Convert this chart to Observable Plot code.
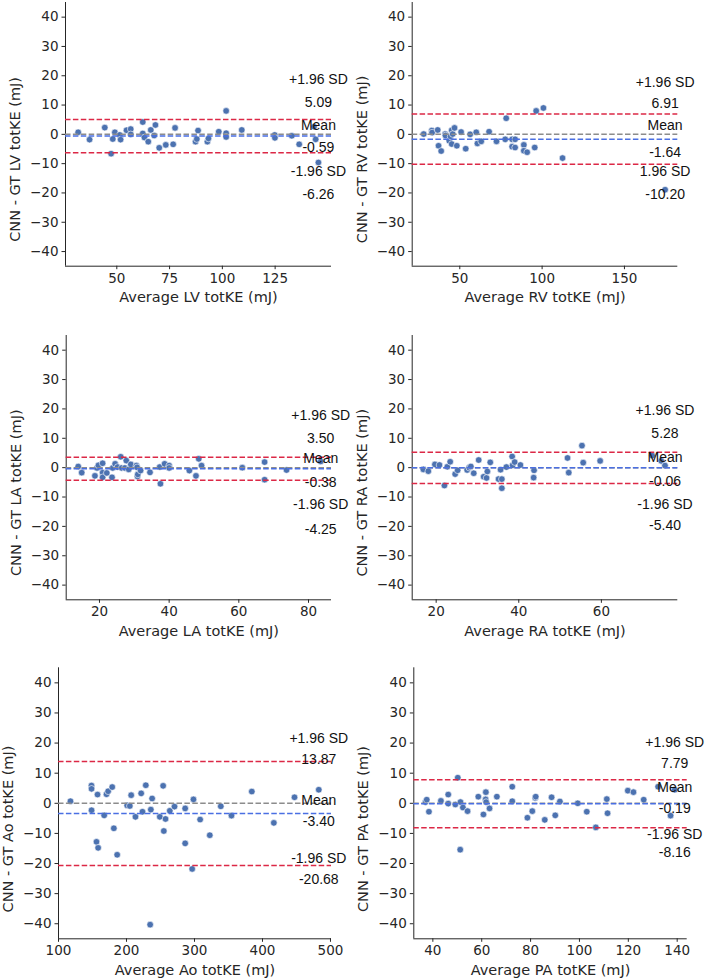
<!DOCTYPE html>
<html>
<head>
<meta charset="utf-8">
<script src="https://cdn.jsdelivr.net/npm/d3@7"></script>
<script src="https://cdn.jsdelivr.net/npm/@observablehq/plot@0.6"></script>
<style>
  html, body { margin: 0; padding: 0; background: #ffffff; }
  #chart { position: relative; width: 709px; height: 980px; background: #ffffff; }
  #chart svg { position: absolute; overflow: visible; }
</style>
</head>
<body>
<div id="chart"></div>
<script>
// ---------------- DATA ----------------
const chambers = ["LV", "RV", "LA", "RA", "Ao", "PA"];

const lvAvg  = [31.7, 37.1, 44.3, 47.3, 48.1, 49.1, 51.4, 51.8, 54.6, 56.6, 56.6, 62.3, 62.3, 63.1, 64.9, 66.1, 67.7, 68.3, 70.1, 73.2, 76.7, 77.6, 87.3, 87.9, 88.5, 92.9, 93.4, 98.3, 101.8, 101.8, 101.8, 109.2, 124.8, 124.9, 132.9, 136.4, 143.4, 144.2, 145.5];
const lvDiff = [0.7, -1.8, 2.3, -6.6, -1.6, 0.7, -0.2, -1.8, 1.4, 1.8, 0.0, 4.2, 0.3, -1.1, -2.5, 1.5, -0.4, 3.2, -4.6, -3.6, -3.4, 2.2, -2.5, -1.6, 1.3, -2.5, -1.4, 0.9, 8.0, 0.4, -0.9, 1.5, -0.2, -1.2, -0.5, -3.4, 2.6, -1.7, -9.6];
const lvStats = [5.09, -0.59, -6.26];

const rvAvg  = [28.1, 33.0, 33.2, 36.6, 37.1, 38.7, 41.1, 41.3, 43.6, 44.4, 45.1, 45.1, 45.7, 46.8, 48.2, 50.8, 53.6, 56.3, 60.0, 60.7, 63.0, 67.8, 72.3, 77.6, 78.2, 81.8, 81.8, 83.6, 83.6, 88.9, 88.9, 90.9, 95.5, 96.4, 100.8, 112.4, 174.7];
const rvDiff = [0.1, 1.3, 0.6, 1.5, -3.9, -5.7, 0.1, -0.4, -2.2, -0.7, 1.4, -3.3, 0.1, 2.2, -3.9, 0.8, -4.9, 0.0, 0.7, -3.1, -2.4, 0.9, -2.4, -1.7, 5.5, -1.7, -4.2, -1.7, -4.5, -3.6, -5.6, -6.1, -4.5, 8.0, 9.0, -8.1, -18.9];
const rvStats = [6.91, -1.64, -10.20];

const laAvg  = [13.9, 14.9, 18.7, 19.3, 19.7, 20.9, 20.9, 20.9, 22.1, 23.6, 23.8, 24.5, 25.2, 26.1, 26.4, 27.3, 27.7, 28.4, 29.0, 30.6, 30.8, 30.9, 31.0, 31.8, 34.5, 37.3, 37.5, 38.7, 40.0, 40.0, 45.8, 47.7, 48.5, 49.3, 61.0, 67.4, 67.4, 73.7, 83.5];
const laDiff = [0.4, -1.7, -2.8, -0.1, 0.8, -1.7, 1.5, -3.3, -1.8, -3.3, -0.1, 1.3, 0.2, 3.7, -0.1, -0.1, 2.4, -0.6, 1.1, 0.7, 0.1, -3.0, -2.3, -1.0, -1.6, 0.2, -5.5, 1.3, 0.7, -0.1, -1.0, -2.8, 3.0, 0.7, 0.0, 1.9, -4.1, -0.8, 2.1];
const laStats = [3.50, -0.38, -4.25];

const raAvg  = [16.9, 18.1, 19.7, 20.8, 22.0, 22.7, 23.4, 24.6, 25.2, 27.5, 28.0, 28.4, 29.1, 30.3, 31.5, 32.2, 32.4, 33.1, 35.1, 35.6, 35.9, 35.9, 37.0, 38.4, 38.5, 39.0, 40.4, 43.7, 43.6, 51.8, 52.1, 55.3, 55.6, 59.7, 72.3, 74.5, 75.4];
const raDiff = [-0.6, -1.2, 1.1, 0.9, -6.1, 0.3, 2.0, -2.2, -0.9, -0.8, 0.0, 0.4, -1.9, 2.6, -3.1, -3.5, -1.3, 1.8, -3.9, -0.7, -3.9, -7.0, 0.2, 3.8, 0.8, 1.9, 0.9, -0.9, -3.4, 3.3, -1.7, 7.5, 1.7, 2.3, 4.1, 2.3, 0.7];
const raStats = [5.28, -0.06, -5.40];

const aoAvg  = [117.6, 148.5, 148.6, 148.6, 155.9, 157.4, 158.3, 167.2, 170.6, 173.0, 179.0, 181.4, 186.3, 201.0, 204.9, 206.9, 213.2, 221.6, 223.5, 228.4, 235.8, 237.7, 234.8, 249.0, 253.9, 254.9, 257.4, 263.7, 270.6, 286.3, 286.3, 296.6, 298.5, 308.3, 322.5, 338.7, 354.4, 384.3, 416.7, 447.1, 482.8];
const aoDiff = [0.7, 5.9, 4.8, -2.3, -12.8, 2.9, -14.8, -4.0, 3.0, 4.0, 5.4, -8.3, -17.1, -0.7, -0.9, 2.7, -4.5, 3.3, -2.8, 6.0, -2.1, 1.6, -40.3, -4.5, 5.8, -9.2, -5.2, -2.5, -1.1, -1.7, -13.3, -21.8, 1.3, -5.4, -10.6, -1.0, -4.1, 3.9, -6.5, 2.0, 4.5];
const aoStats = [13.87, -3.40, -20.68];

const paAvg  = [37.0, 37.5, 38.4, 43.3, 46.3, 46.3, 49.2, 50.2, 51.3, 51.2, 52.3, 54.2, 58.6, 60.7, 61.6, 61.7, 61.8, 63.2, 66.2, 72.5, 72.5, 78.7, 80.7, 81.9, 82.1, 85.8, 88.6, 90.1, 92.0, 99.3, 103.0, 106.7, 111.2, 111.5, 119.8, 122.1, 126.3, 132.2, 137.3, 139.0];
const paDiff = [0.4, 1.2, -2.8, 0.8, 2.9, -0.1, -0.4, 8.5, 0.4, -15.4, -1.4, -2.6, 2.2, -3.7, 1.3, 3.7, 0.4, -1.7, 2.2, 5.5, 0.7, -4.8, -2.6, 1.8, 2.2, -5.5, 2.0, -4.0, 0.6, 0.0, -2.8, -8.0, 1.4, -3.3, 4.2, 3.7, 1.2, 5.5, -4.1, 4.5];
const paStats = [7.79, -0.19, -8.16];

// annotation label texts (as printed in the reference)
const lvNotes = ["+1.96 SD", "5.09", "Mean", "-0.59", "-1.96 SD", "-6.26"];
const rvNotes = ["+1.96 SD", "6.91", "Mean", "-1.64", "1.96 SD", "-10.20"];
const laNotes = ["+1.96 SD", "3.50", "Mean", "-0.38", "-1.96 SD", "-4.25"];
const raNotes = ["+1.96 SD", "5.28", "Mean", "-0.06", "-1.96 SD", "-5.40"];
const aoNotes = ["+1.96 SD", "13.87", "Mean", "-3.40", "-1.96 SD", "-20.68"];
const paNotes = ["+1.96 SD", "7.79", "Mean", "-0.19", "-1.96 SD", "-8.16"];

// x tick labels per panel
const lvTicks = [50, 75, 100, 125];
const rvTicks = [50, 100, 150];
const laTicks = [20, 40, 60, 80];
const raTicks = [20, 40, 60];
const aoTicks = [100, 200, 300, 400, 500];
const paTicks = [40, 60, 80, 100, 120, 140];
const yTicks  = [-40, -30, -20, -10, 0, 10, 20, 30, 40];

// ---------------- LAYOUT ----------------
const layout = {
  LV: {left: 0,   top: 0,   w: 354, h: 320, ml: 65,   mr: 23,   mt: 2,    mb: 54.3, xd: [25.7, 151.7], ny: [18.7, 10.8, 3.0, -4.5, -12.6, -20.7]},
  RV: {left: 354, top: 0,   w: 355, h: 320, ml: 57.7, mr: 31.7, mt: 2,    mb: 54.3, xd: [21.1, 182.4], ny: [17.6, 10.4, 3.0, -6.2, -12.6, -20.4]},
  LA: {left: 0,   top: 320, w: 354, h: 320, ml: 65.7, mr: 23,   mt: 15,   mb: 40.7, xd: [10.45, 86.6], ny: [17.9, 10.0, 3.2, -5.0, -12.7, -20.9]},
  RA: {left: 354, top: 320, w: 355, h: 320, ml: 57.7, mr: 31.7, mt: 15,   mb: 40.7, xd: [14.2, 78.5],  ny: [19.6, 11.7, 3.3, -4.8, -12.7, -19.7]},
  Ao: {left: 0,   top: 640, w: 354, h: 340, ml: 58,   mr: 23,   mt: 27.3, mb: 41.7, xd: [100, 501.5],  ny: [21.6, 14.4, 0.9, -6.1, -18.3, -25.4]},
  PA: {left: 354, top: 640, w: 355, h: 340, ml: 59.3, mr: 22.3, mt: 27.3, mb: 41.7, xd: [32.2, 144.1], ny: [20.2, 13.2, 5.4, -1.6, -10.4, -16.4]}
};

const series = {
  LV: {avg: lvAvg, diff: lvDiff, stats: lvStats, notes: lvNotes, ticks: lvTicks},
  RV: {avg: rvAvg, diff: rvDiff, stats: rvStats, notes: rvNotes, ticks: rvTicks},
  LA: {avg: laAvg, diff: laDiff, stats: laStats, notes: laNotes, ticks: laTicks},
  RA: {avg: raAvg, diff: raDiff, stats: raStats, notes: raNotes, ticks: raTicks},
  Ao: {avg: aoAvg, diff: aoDiff, stats: aoStats, notes: aoNotes, ticks: aoTicks},
  PA: {avg: paAvg, diff: paDiff, stats: paStats, notes: paNotes, ticks: paTicks}
};

const fmt = d => (d < 0 ? "\u2212" + Math.abs(d) : String(d));
const dash = "5.5,2.4";
const container = document.getElementById("chart");

for (const key of chambers) {
  const s = series[key];
  const L = layout[key];
  const pts = s.avg.map((a, i) => ({avg: a, diff: s.diff[i]}));
  const [upper, mean, lower] = s.stats;
  const xText = d3.max(s.avg);
  const notes = s.notes.map((t, i) => ({t, y: L.ny[i]}));
  const frameH = L.h - L.mt - L.mb;

  const svg = Plot.plot({
    width: L.w,
    height: L.h,
    marginLeft: L.ml,
    marginRight: L.mr,
    marginTop: L.mt,
    marginBottom: L.mb,
    style: {fontFamily: "DejaVu Sans", fontSize: "13.5px", color: "#262626", background: "transparent", overflow: "visible"},
    x: {domain: L.xd, ticks: s.ticks, tickFormat: fmt, tickSize: 3.5, tickPadding: 3.5, label: null},
    y: {domain: [-45, 45], ticks: yTicks, tickFormat: fmt, tickSize: 3.5, tickPadding: 3.5, label: null},
    marks: [
      Plot.ruleX([L.xd[0]], {stroke: "#262626", strokeWidth: 1}),
      Plot.ruleY([-45], {stroke: "#262626", strokeWidth: 1}),
      Plot.dot(pts, {x: "avg", y: "diff", r: 3.3, fill: "#4c72b0", stroke: "white", strokeWidth: 0.6}),
      Plot.ruleY([0], {stroke: "#8c8c8c", strokeWidth: 1.5, strokeDasharray: dash}),
      Plot.ruleY([mean], {stroke: "#4a6fe3", strokeWidth: 1.5, strokeDasharray: dash}),
      Plot.ruleY([upper, lower], {stroke: "#dc2846", strokeWidth: 1.5, strokeDasharray: dash}),
      Plot.text(notes, {x: () => xText, y: "y", text: "t", textAnchor: "middle", fontFamily: "Liberation Sans, Arial, sans-serif", fontSize: 14, fill: "#111111"}),
      Plot.text([`Average ${key} totKE (mJ)`], {frameAnchor: "bottom", textAnchor: "middle", lineAnchor: "middle", dy: 31.5, fontSize: 14.5, fill: "#262626"}),
      Plot.text([`CNN - GT ${key} totKE (mJ)`], {frameAnchor: "left", textAnchor: "middle", lineAnchor: "middle", dx: -50, dy: frameH * 0.095, rotate: -90, fontSize: 14.5, fill: "#262626"})
    ]
  });
  svg.style.left = L.left + "px";
  svg.style.top = L.top + "px";
  container.appendChild(svg);
}
</script>
</body>
</html>
